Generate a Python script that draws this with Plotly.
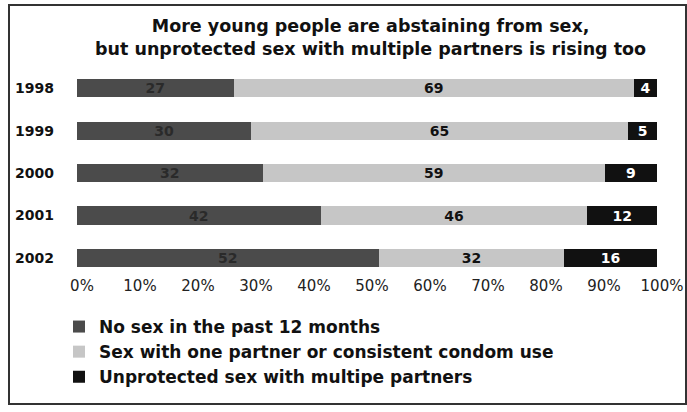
import plotly.graph_objects as go

years = ["1998", "1999", "2000", "2001", "2002"]
no_sex = [27, 30, 32, 42, 52]
protected = [69, 65, 59, 46, 32]
unprotected = [4, 5, 9, 12, 16]
x_ticks = [0, 10, 20, 30, 40, 50, 60, 70, 80, 90, 100]
title_lines = [
    "More young people are abstaining from sex,",
    "but unprotected sex with multiple partners is rising too",
]

series = [
    ("No sex in the past 12 months", no_sex, "#4b4b4b", "#2a2a2a"),
    ("Sex with one partner or consistent condom use", protected, "#c6c6c6", "#111111"),
    ("Unprotected sex with multipe partners", unprotected, "#111111", "#ffffff"),
]

W, H = 687, 412
L, R, T, B = 77, 30, 67, 137
FONT = "DejaVu Sans, Arial, sans-serif"

fig = go.Figure()
for i, (name, vals, color, tcolor) in enumerate(series):
    fig.add_trace(go.Bar(
        y=years, x=vals, name=name, orientation="h",
        marker=dict(color=color, line=dict(width=0)),
        text=[str(v) for v in vals], textposition="inside",
        insidetextanchor="middle", textangle=0, constraintext="none",
        textfont=dict(family=FONT, size=14, color=tcolor, weight="bold"),
        legendgroup=f"g{i}",
    ))

# helpers to place things in paper coordinates from pixel positions
pw = W - L - R
ph = H - T - B
def px_to_paper_x(px):
    return (px - L) / pw
def py_to_paper_y(py):
    return (H - B - py) / ph

# frame around the whole graphic
fig.add_shape(type="rect", xref="paper", yref="paper",
              x0=px_to_paper_x(9), x1=px_to_paper_x(686),
              y0=py_to_paper_y(404), y1=py_to_paper_y(5),
              line=dict(color="#333333", width=2), fillcolor="rgba(0,0,0,0)",
              layer="below")

# two-line headline
fig.add_annotation(
    text="<br>".join(title_lines), xref="paper", yref="paper",
    x=px_to_paper_x(370), y=py_to_paper_y(37),
    xanchor="center", yanchor="middle", showarrow=False, align="center",
    font=dict(family=FONT, size=17.5, color="#111111", weight="bold"),
)

fig.update_layout(
    width=W, height=H,
    margin=dict(l=L, r=R, t=T, b=B, autoexpand=False),
    paper_bgcolor="white", plot_bgcolor="white",
    barmode="stack", bargap=0.57,
    font=dict(family=FONT, color="#111111"),
    xaxis=dict(
        range=[0, 100], tickvals=x_ticks, ticktext=[f"{v}%" for v in x_ticks],
        showgrid=False, zeroline=False, showline=False, ticks="",
        tickfont=dict(family=FONT, size=15, color="#222222"),
        ticklabelstandoff=0, ticklabelshift=5, automargin=False,
    ),
    yaxis=dict(
        categoryorder="array", categoryarray=years, range=[4.4, -0.5],
        showgrid=False, zeroline=False, showline=False, ticks="",
        tickfont=dict(family=FONT, size=14, color="#111111", weight="bold"),
        ticklabelstandoff=22, automargin=False,
    ),
    legend=dict(
        x=px_to_paper_x(59), xanchor="left",
        y=py_to_paper_y(309), yanchor="top",
        font=dict(family=FONT, size=17, color="#111111", weight="bold"),
        traceorder="normal", tracegroupgap=5,
        itemwidth=30, bgcolor="rgba(0,0,0,0)",
    ),
)

fig.write_html("out.html")
